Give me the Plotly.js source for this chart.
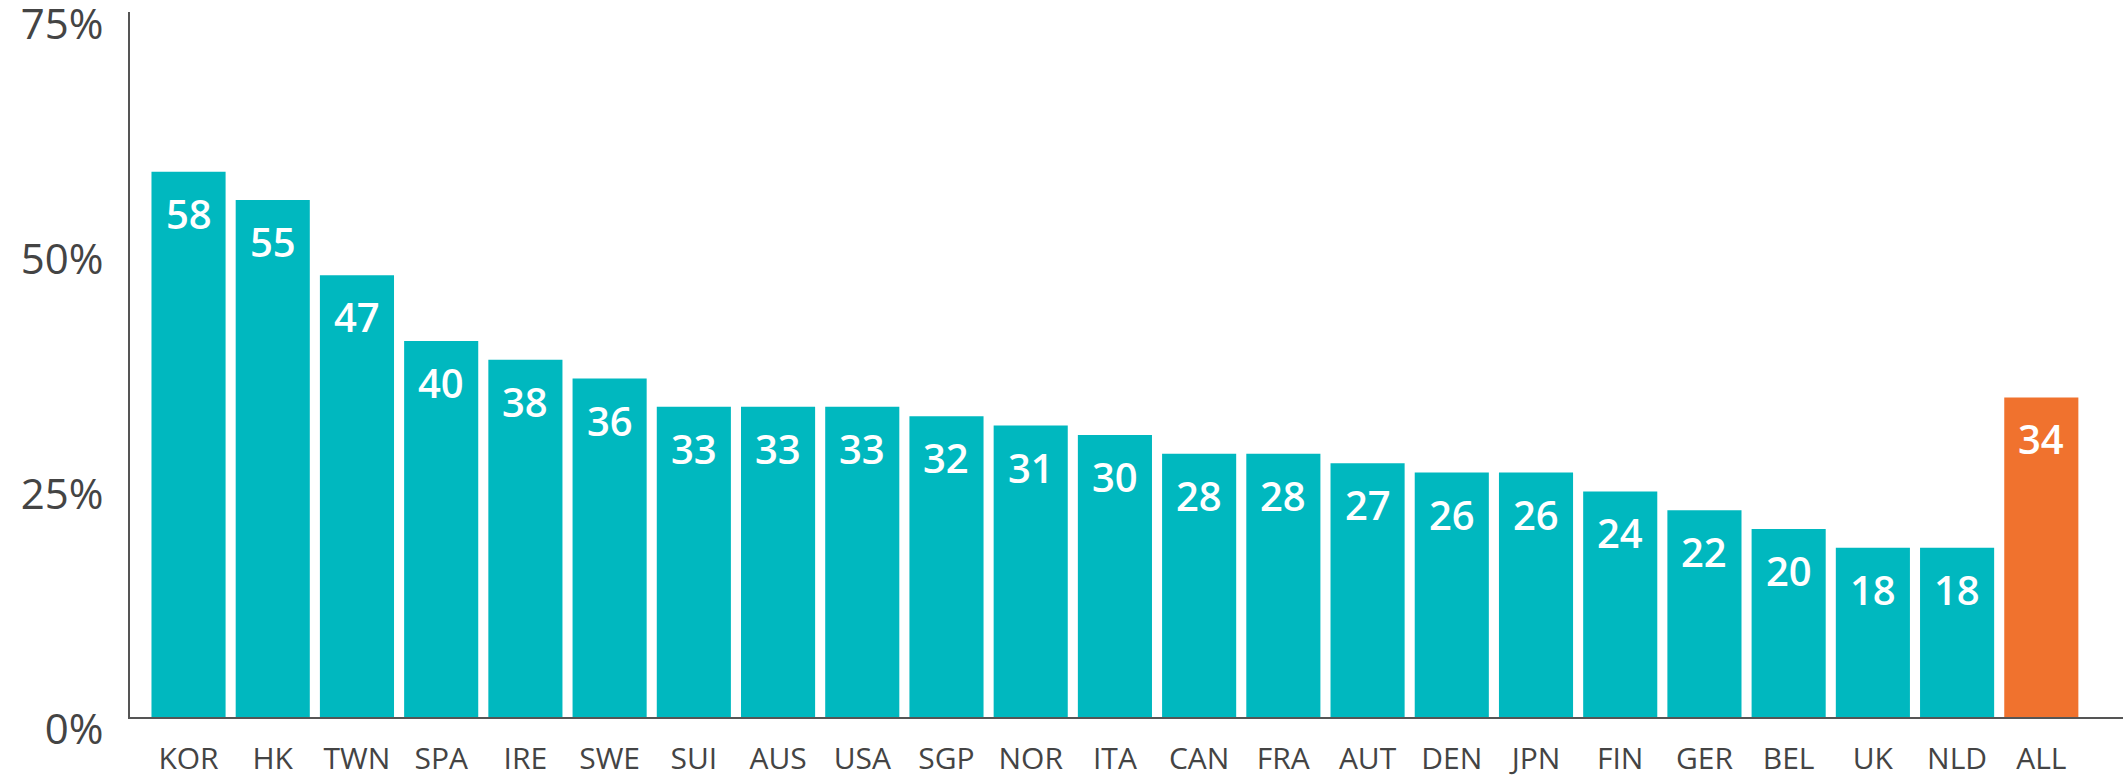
<!DOCTYPE html>
<html>
<head>
<meta charset="utf-8">
<script src="https://cdn.plot.ly/plotly-3.0.1.min.js"></script>
<style>html,body{margin:0;padding:0;background:#fff;}#chart{width:2123px;height:779px;}</style>
</head>
<body>
<div id="chart"></div>
<script>
const categories = ["KOR","HK","TWN","SPA","IRE","SWE","SUI","AUS","USA","SGP","NOR","ITA","CAN","FRA","AUT","DEN","JPN","FIN","GER","BEL","UK","NLD","ALL"];
const values = [58,55,47,40,38,36,33,33,33,32,31,30,28,28,27,26,26,24,22,20,18,18,34];
const tickVals = [0,25,50,75];
const tickLabels = ["0%","25%","50%","75%"];
const teal = "#00B8BF";
const orange = "#F0722E";

const colors = categories.map(c => c === "ALL" ? orange : teal);

const trace = {
  type: "bar",
  x: categories,
  y: values,
  marker: {color: colors},
  hoverinfo: "none"
};

const annotations = categories.map((c, i) => ({
  x: c, y: values[i], xref: "x", yref: "y",
  text: String(values[i]),
  showarrow: false,
  yanchor: "top",
  yshift: -12,
  font: {family: "Open Sans, sans-serif", size: 40, color: "#ffffff", weight: 600}
}));

const layout = {
  width: 2123, height: 779,
  margin: {l: 130, r: 0, t: 12, b: 62},
  paper_bgcolor: "#ffffff",
  plot_bgcolor: "#ffffff",
  bargap: 0.12,
  showlegend: false,
  xaxis: {
    type: "category",
    range: [-0.695, 22.97],
    showline: true, linecolor: "#555555", linewidth: 2,
    showgrid: false, zeroline: false, ticks: "",
    ticklabelstandoff: 14,
    tickfont: {family: "Open Sans, sans-serif", size: 30, color: "#444444"}
  },
  yaxis: {
    range: [0, 75],
    tickvals: tickVals, ticktext: tickLabels,
    showline: true, linecolor: "#555555", linewidth: 2,
    showgrid: false, zeroline: false, ticks: "",
    ticklabelstandoff: 16,
    ticklabelshift: 12,
    ticklabeloverflow: "allow",
    tickfont: {family: "Open Sans, sans-serif", size: 42, color: "#444444"}
  },
  annotations: annotations
};

Plotly.newPlot("chart", [trace], layout, {staticPlot: true, displayModeBar: false});
</script>
</body>
</html>
